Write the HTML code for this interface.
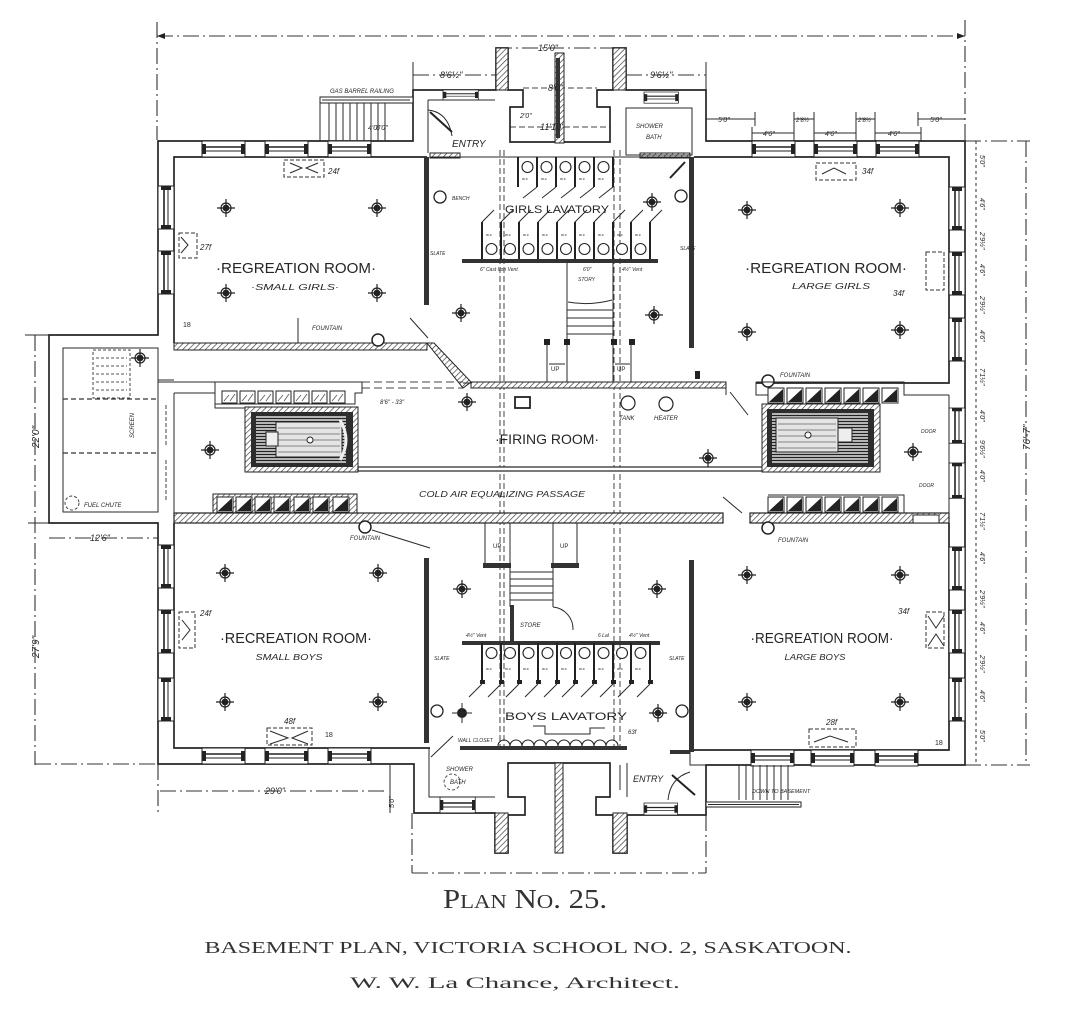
<!DOCTYPE html>
<html><head><meta charset="utf-8">
<style>
html,body{margin:0;padding:0;background:#fff;}
svg{display:block}
.w{fill:none;stroke:#252525;stroke-width:1.7}
.t{fill:none;stroke:#2a2a2a;stroke-width:1}
.d{fill:none;stroke:#333;stroke-width:1.1;stroke-dasharray:16 4 2 4}
.ds{fill:none;stroke:#444;stroke-width:1;stroke-dasharray:6 3}
text{font-family:"Liberation Sans",sans-serif;fill:#262626}
.hw{font-style:italic}
.sf{font-family:"Liberation Serif",serif;fill:#333}
</style></head><body>
<svg width="1069" height="1023" viewBox="0 0 1069 1023" xmlns="http://www.w3.org/2000/svg">
<defs>
<pattern id="h" width="4" height="4" patternUnits="userSpaceOnUse" patternTransform="rotate(45)"><rect width="4" height="4" fill="#fff"/><line x1="0" y1="0" x2="0" y2="4" stroke="#333" stroke-width="1.3"/></pattern>
<pattern id="st" width="6" height="3" patternUnits="userSpaceOnUse"><rect width="6" height="3" fill="#cfcfcf"/><line x1="0" y1="1.5" x2="6" y2="1.5" stroke="#222" stroke-width="1.3"/></pattern>
<g id="fx" stroke="#222" stroke-width="1.2"><circle r="5" fill="none"/><circle r="2.8" fill="#222"/><line x1="-9" y1="0" x2="9" y2="0"/><line x1="0" y1="-9" x2="0" y2="9"/></g>
<g id="wh"><rect x="0" y="0" width="43" height="16" fill="#fff" stroke="#222" stroke-width="1"/><line x1="3" y1="6" x2="40" y2="6" stroke="#222" stroke-width="1.6"/><line x1="3" y1="10" x2="40" y2="10" stroke="#222" stroke-width="1"/><rect x="0" y="3" width="4" height="10" fill="#222"/><rect x="39" y="3" width="4" height="10" fill="#222"/></g>
<g id="wv"><rect x="0" y="0" width="16" height="43" fill="#fff" stroke="#222" stroke-width="1"/><line x1="6" y1="3" x2="6" y2="40" stroke="#222" stroke-width="1.6"/><line x1="10" y1="3" x2="10" y2="40" stroke="#222" stroke-width="1"/><rect x="3" y="0" width="10" height="4" fill="#222"/><rect x="3" y="39" width="10" height="4" fill="#222"/></g>
<g id="bin"><rect x="0" y="0" width="16" height="15" fill="#fff" stroke="#222" stroke-width="1"/><path d="M1,14 L15,1 L15,14 Z" fill="#222"/></g>
<g id="binl"><rect x="0" y="0" width="15" height="12" fill="#fff" stroke="#222" stroke-width="1"/><path d="M2,10 L7,4 M8,10 L13,3" stroke="#555" stroke-width="0.8"/></g>
</defs>

<!-- ===== DIMENSION LINES ===== -->
<line class="d" x1="157" y1="36" x2="965" y2="36"/>
<line class="d" x1="157" y1="22" x2="157" y2="140"/>
<line class="d" x1="965" y1="20" x2="965" y2="140"/>
<path d="M157,36 l8,-3 v6 z M965,36 l-8,-3 v6 z" fill="#222"/>
<line class="d" x1="35" y1="335" x2="35" y2="765"/>
<line class="t" x1="25" y1="335" x2="49" y2="335"/>
<line class="t" x1="28" y1="523" x2="49" y2="523"/>
<line class="d" x1="35" y1="764" x2="158" y2="764"/>
<line class="d" x1="158" y1="764" x2="158" y2="815"/>
<line class="d" x1="160" y1="791" x2="388" y2="791"/>
<line class="d" x1="49" y1="538" x2="158" y2="538"/>
<line class="d" x1="1026" y1="141" x2="1026" y2="765"/>
<line class="d" x1="965" y1="141" x2="1030" y2="141"/>
<line class="d" x1="965" y1="765" x2="1030" y2="765"/>
<line class="t" x1="976" y1="141" x2="976" y2="765" stroke-dasharray="3 3"/>
<line class="d" x1="412" y1="813" x2="412" y2="873"/>
<line class="d" x1="412" y1="873" x2="706" y2="873"/>
<line class="d" x1="706" y1="815" x2="706" y2="873"/>
<line class="t" x1="390" y1="765" x2="390" y2="813"/>
<!-- center dashed lines -->
<line class="ds" x1="500" y1="150" x2="500" y2="752"/>
<line class="ds" x1="504" y1="150" x2="504" y2="752"/>
<line class="ds" x1="614" y1="150" x2="614" y2="752"/>
<line class="ds" x1="620" y1="150" x2="620" y2="752"/>
<!-- top dims -->
<line class="d" x1="413" y1="75" x2="496" y2="75"/>
<line class="d" x1="626" y1="75" x2="706" y2="75"/>
<line class="t" x1="413" y1="62" x2="413" y2="90"/>
<line class="t" x1="706" y1="62" x2="706" y2="90"/>
<line class="d" x1="496" y1="48" x2="626" y2="48"/>
<line class="ds" x1="523" y1="88" x2="597" y2="88"/>
<line class="ds" x1="510" y1="127" x2="610" y2="127"/>
<line class="t" x1="706" y1="119" x2="755" y2="119"/>
<line class="t" x1="918" y1="119" x2="965" y2="119"/>
<line class="t" x1="794" y1="119" x2="814" y2="119"/>
<line class="t" x1="856" y1="119" x2="875" y2="119"/>
<line class="t" x1="752" y1="133" x2="794" y2="133"/>
<line class="t" x1="814" y1="133" x2="856" y2="133"/>
<line class="t" x1="875" y1="133" x2="921" y2="133"/>
<g class="t"><line x1="752" y1="127" x2="752" y2="141"/><line x1="794" y1="112" x2="794" y2="141"/><line x1="814" y1="112" x2="814" y2="141"/><line x1="856" y1="112" x2="856" y2="141"/><line x1="875" y1="112" x2="875" y2="141"/><line x1="921" y1="127" x2="921" y2="141"/><line x1="755" y1="112" x2="755" y2="126"/><line x1="918" y1="112" x2="918" y2="126"/></g>

<!-- ===== BUILDING OUTLINE ===== -->
<path class="w" d="M158,141 H413 V90 H496 V48 H508 V90 H523 V107 H510 V142 H610 V107 H597 V90 H613 V48 H626 V90 H706 V141 H965 V765 H706 V815 H627 V853 H613 V815 H596 V797 H610 V763 H508 V797 H525 V815 H508 V853 H495 V813 H414 V764 H158 V523 H49 V335 H158 Z"/>
<!-- hatched piers -->
<rect x="496" y="48" width="12" height="42" fill="url(#h)" stroke="#222"/>
<rect x="613" y="48" width="13" height="42" fill="url(#h)" stroke="#222"/>
<rect x="555" y="53" width="9" height="90" fill="url(#h)" stroke="#222"/>
<rect x="556" y="58" width="4" height="80" fill="#333"/>
<rect x="495" y="813" width="13" height="40" fill="url(#h)" stroke="#222"/>
<rect x="613" y="813" width="14" height="40" fill="url(#h)" stroke="#222"/>
<rect x="555" y="763" width="8" height="90" fill="url(#h)" stroke="#222"/>

<!-- ===== TOP-LEFT : SMALL GIRLS ===== -->
<path class="w" d="M174,343 V157 H427"/>
<rect x="424" y="157" width="5" height="148" fill="#333"/>
<rect x="174" y="343" width="253" height="7" fill="url(#h)" stroke="#222" stroke-width="1"/>
<polygon points="427,343 434,343 471,382 463,388" fill="url(#h)" stroke="#222" stroke-width="1"/>
<line class="t" x1="410" y1="318" x2="428" y2="338"/>
<circle cx="378" cy="340" r="6" fill="#fff" stroke="#222" stroke-width="1.5"/>
<use href="#wh" x="202" y="141"/><use href="#wh" x="265" y="141"/><use href="#wh" x="328" y="141"/>
<use href="#wv" x="158" y="186"/><use href="#wv" x="158" y="251"/>
<use href="#fx" x="226" y="208"/><use href="#fx" x="377" y="208"/><use href="#fx" x="226" y="293"/><use href="#fx" x="377" y="293"/>
<rect x="284" y="160" width="40" height="17" fill="none" stroke="#333" stroke-dasharray="4 2"/>
<path class="t" d="M290,163 L302,168 L290,173 M318,163 L306,168 L318,173"/>
<text x="328" y="174" font-size="8" class="hw">24f</text>
<rect x="179" y="233" width="18" height="25" fill="none" stroke="#333" stroke-dasharray="4 2"/>
<path class="t" d="M181,237 L188,245 L181,253"/>
<text x="200" y="250" font-size="8" class="hw">27f</text>
<text x="296" y="273" font-size="15" text-anchor="middle" textLength="160" lengthAdjust="spacingAndGlyphs">·REGREATION ROOM·</text>
<text x="295" y="290" font-size="8" class="hw" text-anchor="middle" textLength="88" lengthAdjust="spacingAndGlyphs">·SMALL GIRLS·</text>
<text x="312" y="330" font-size="6" class="hw">FOUNTAIN</text>
<line class="t" x1="298" y1="318" x2="298" y2="343"/>
<text x="183" y="327" font-size="7">18</text>

<!-- gas barrel stair -->
<rect x="320" y="97" width="93" height="6" fill="#fff" stroke="#222" stroke-width="1"/>
<line class="t" x1="322" y1="100" x2="410" y2="100"/>
<path class="t" d="M329,103 V141 M336,103 V141 M343,103 V141 M350,103 V141 M357,103 V141 M364,103 V141 M371,103 V141 M378,103 V141 M385,103 V141"/>
<line class="t" x1="320" y1="103" x2="320" y2="141"/>
<text x="330" y="93" font-size="6" class="hw">GAS BARREL RAILING</text>
<text x="368" y="130" font-size="7" class="hw">4'0"</text>
<!-- entry top-left -->
<use href="#wh" x="0" y="0" transform="translate(443,90) scale(0.82,0.62)"/>
<path class="t" d="M428,100 H495 M428,100 V153"/>
<path class="t" d="M428,110 Q448,112 452,136"/>
<line x1="430" y1="112" x2="452" y2="132" stroke="#222" stroke-width="2"/>
<text x="452" y="147" font-size="10" class="hw">ENTRY</text>
<rect x="430" y="153" width="30" height="5" fill="url(#h)" stroke="#222" stroke-width="1"/>
<rect x="640" y="153" width="50" height="5" fill="url(#h)" stroke="#222" stroke-width="1"/>
<line class="t" x1="430" y1="157" x2="690" y2="157"/>
<circle cx="440" cy="197" r="6" fill="#fff" stroke="#222" stroke-width="1.3"/>
<text x="452" y="200" font-size="5" class="hw">BENCH</text>

<!-- ===== GIRLS LAVATORY ===== -->
<g stroke="#222" stroke-width="2">
<line x1="518" y1="157" x2="518" y2="187"/><line x1="537" y1="157" x2="537" y2="187"/><line x1="556" y1="157" x2="556" y2="187"/><line x1="575" y1="157" x2="575" y2="187"/><line x1="594" y1="157" x2="594" y2="187"/><line x1="613" y1="157" x2="613" y2="187"/>
</g>
<g fill="#fff" stroke="#222" stroke-width="1.1">
<circle cx="527.5" cy="167" r="5.5"/><circle cx="546.5" cy="167" r="5.5"/><circle cx="565.5" cy="167" r="5.5"/><circle cx="584.5" cy="167" r="5.5"/><circle cx="603.5" cy="167" r="5.5"/>
</g>
<g class="t"><path d="M537,187 L523,198 M556,187 L542,198 M575,187 L561,198 M594,187 L580,198 M613,187 L599,198"/></g>
<g font-size="4"><text x="522" y="180">w.c</text><text x="541" y="180">w.c</text><text x="560" y="180">w.c</text><text x="579" y="180">w.c</text><text x="598" y="180">w.c</text></g>
<text x="557" y="213" font-size="11" text-anchor="middle" textLength="104" lengthAdjust="spacingAndGlyphs">GIRLS LAVATORY</text>
<g stroke="#222" stroke-width="2">
<line x1="482" y1="222" x2="482" y2="260"/><line x1="501" y1="222" x2="501" y2="260"/><line x1="519" y1="222" x2="519" y2="260"/><line x1="538" y1="222" x2="538" y2="260"/><line x1="557" y1="222" x2="557" y2="260"/><line x1="575" y1="222" x2="575" y2="260"/><line x1="594" y1="222" x2="594" y2="260"/><line x1="613" y1="222" x2="613" y2="260"/><line x1="631" y1="222" x2="631" y2="260"/><line x1="650" y1="222" x2="650" y2="260"/>
</g>
<g class="t"><path d="M482,222 L494,210 M501,222 L513,210 M519,222 L531,210 M538,222 L550,210 M557,222 L569,210 M575,222 L587,210 M594,222 L606,210 M613,222 L625,210 M631,222 L643,210 M650,222 L662,210"/></g>
<g fill="#fff" stroke="#222" stroke-width="1.1">
<circle cx="491.5" cy="249" r="5.5"/><circle cx="510" cy="249" r="5.5"/><circle cx="528.5" cy="249" r="5.5"/><circle cx="547.5" cy="249" r="5.5"/><circle cx="566" cy="249" r="5.5"/><circle cx="584.5" cy="249" r="5.5"/><circle cx="603.5" cy="249" r="5.5"/><circle cx="622" cy="249" r="5.5"/><circle cx="640.5" cy="249" r="5.5"/>
</g>
<g font-size="4"><text x="486" y="236">w.c</text><text x="505" y="236">w.c</text><text x="523" y="236">w.c</text><text x="542" y="236">w.c</text><text x="561" y="236">w.c</text><text x="579" y="236">w.c</text><text x="598" y="236">w.c</text><text x="617" y="236">w.c</text><text x="635" y="236">w.c</text></g>
<rect x="462" y="259" width="196" height="4" fill="#333"/>
<text x="480" y="271" font-size="5" class="hw">6" Cast Iron Vent</text>
<text x="622" y="271" font-size="5" class="hw">4½" Vent</text>
<text x="583" y="271" font-size="5" class="hw">6'0"</text>
<text x="578" y="281" font-size="5" class="hw">STORY</text>
<!-- girls stair -->
<path class="t" d="M567,263 V342 M613,263 V342 M567,310 H613 M567,318 H613 M567,326 H613 M567,334 H613"/>
<path class="t" d="M568,302 Q590,306 612,300"/>
<path class="t" d="M547,342 V382 M567,342 V382 M613,342 V382 M631,342 V382"/>
<rect x="544" y="339" width="6" height="6" fill="#222"/><rect x="564" y="339" width="6" height="6" fill="#222"/><rect x="611" y="339" width="6" height="6" fill="#222"/><rect x="629" y="339" width="6" height="6" fill="#222"/>
<text x="551" y="371" font-size="6">UP</text><text x="617" y="371" font-size="6">UP</text>
<line class="t" x1="549" y1="364" x2="565" y2="364"/><line class="t" x1="615" y1="364" x2="630" y2="364"/>

<!-- top-right shower room -->
<rect class="t" x="626" y="108" width="66" height="47"/>
<use href="#wh" x="0" y="0" transform="translate(644,92) scale(0.8,0.7)"/>
<text x="636" y="128" font-size="6" class="hw">SHOWER</text>
<text x="646" y="139" font-size="6" class="hw">BATH</text>
<line x1="670" y1="178" x2="685" y2="162" stroke="#222" stroke-width="2"/>
<circle cx="681" cy="196" r="6" fill="#fff" stroke="#222" stroke-width="1.3"/>

<!-- ===== TOP-RIGHT : LARGE GIRLS ===== -->
<rect x="689" y="157" width="5" height="191" fill="#333"/>
<path class="w" d="M694,157 H949 V383 H756"/>
<path class="t" d="M463,383 H726 M726,383 V395"/>
<rect x="471" y="382" width="255" height="6" fill="url(#h)" stroke="#222" stroke-width="1"/>
<line class="t" x1="730" y1="392" x2="748" y2="415"/>
<circle cx="768" cy="381" r="6" fill="#fff" stroke="#222" stroke-width="1.5"/>
<rect x="695" y="371" width="5" height="8" fill="#222"/>
<use href="#wh" x="752" y="141"/><use href="#wh" x="814" y="141"/><use href="#wh" x="876" y="141"/>
<use href="#wv" x="949" y="187"/><use href="#wv" x="949" y="252"/><use href="#wv" x="949" y="318"/>
<use href="#fx" x="747" y="210"/><use href="#fx" x="900" y="208"/><use href="#fx" x="747" y="332"/><use href="#fx" x="900" y="330"/>
<use href="#fx" x="652" y="202"/><use href="#fx" x="654" y="315"/><use href="#fx" x="461" y="313"/>
<rect x="816" y="163" width="40" height="17" fill="none" stroke="#333" stroke-dasharray="4 2"/>
<path class="t" d="M822,174 L834,168 L846,174"/>
<text x="862" y="174" font-size="8" class="hw">34f</text>
<rect x="926" y="252" width="18" height="38" fill="none" stroke="#333" stroke-dasharray="4 2"/>
<text x="893" y="296" font-size="8" class="hw">34f</text>
<text x="826" y="273" font-size="15" text-anchor="middle" textLength="162" lengthAdjust="spacingAndGlyphs">·REGREATION ROOM·</text>
<text x="831" y="289" font-size="8" class="hw" text-anchor="middle" textLength="78" lengthAdjust="spacingAndGlyphs">LARGE GIRLS</text>
<text x="780" y="377" font-size="6" class="hw">FOUNTAIN</text>
<text x="680" y="250" font-size="5" class="hw">SLATE</text>
<text x="430" y="255" font-size="5" class="hw">SLATE</text>

<!-- ===== LEFT ANNEX ===== -->
<rect class="t" x="63" y="348" width="95" height="164"/>
<line x1="63" y1="399" x2="158" y2="399" stroke="#333" stroke-dasharray="5 3" stroke-width="1.2"/>
<line x1="63" y1="453" x2="158" y2="453" stroke="#333" stroke-dasharray="5 3" stroke-width="1.2"/>
<rect x="93" y="350" width="37" height="48" fill="none" stroke="#444" stroke-dasharray="3 2"/>
<path d="M96,358 H127 M96,366 H127 M96,374 H127 M96,382 H127 M96,390 H127" stroke="#555" stroke-dasharray="3 2" fill="none"/>
<use href="#fx" x="140" y="358"/>
<text x="0" y="0" font-size="6" class="hw" transform="translate(134,438) rotate(-90)">SCREEN</text>
<circle cx="72" cy="503" r="7" fill="none" stroke="#444" stroke-dasharray="3 2"/>
<text x="84" y="507" font-size="6" class="hw">FUEL CHUTE</text>
<path class="t" d="M158,380 V512 M174,393 V513 M158,380 H174"/>
<line x1="166" y1="405" x2="166" y2="445" stroke="#444" stroke-dasharray="4 2"/>
<line x1="166" y1="460" x2="166" y2="500" stroke="#444" stroke-dasharray="4 2"/>
<line class="t" x1="158" y1="382" x2="362" y2="382"/>
<line x1="362" y1="382" x2="463" y2="382" stroke="#444" stroke-dasharray="8 4"/>
<line x1="362" y1="388" x2="463" y2="388" stroke="#444" stroke-dasharray="8 4"/>

<!-- ===== FIRING ROOM ===== -->
<path class="t" d="M174,393 H215 V408 H245"/>
<path class="t" d="M215,382 V393 M215,404 H355 V393 H362 V382"/>
<g><use href="#binl" x="222" y="391"/><use href="#binl" x="240" y="391"/><use href="#binl" x="258" y="391"/><use href="#binl" x="276" y="391"/><use href="#binl" x="294" y="391"/><use href="#binl" x="312" y="391"/><use href="#binl" x="330" y="391"/></g>
<rect x="245" y="407" width="113" height="65" fill="url(#h)" stroke="#222"/>
<rect x="251" y="412" width="102" height="55" fill="#2d2d2d"/>
<rect x="256" y="416" width="90" height="47" fill="url(#st)"/>
<rect x="276" y="422" width="66" height="35" fill="#e4e4e4" stroke="#222"/>
<path d="M278,428 H340 M278,434 H340 M278,440 H340 M278,446 H340 M278,452 H340" stroke="#666" stroke-width="0.8"/>
<rect x="266" y="432" width="12" height="14" fill="#eee" stroke="#222"/>
<path d="M340,420 Q352,440 340,460" fill="none" stroke="#eee" stroke-width="3"/>
<circle cx="310" cy="440" r="3" fill="#fff" stroke="#222"/>
<use href="#fx" x="210" y="450"/>
<use href="#fx" x="467" y="402"/>
<use href="#fx" x="708" y="458"/>
<rect x="515" y="397" width="15" height="11" fill="#fff" stroke="#222" stroke-width="1.8"/>
<circle cx="628" cy="403" r="7" fill="#fff" stroke="#222" stroke-width="1.2"/>
<circle cx="666" cy="404" r="7" fill="#fff" stroke="#222" stroke-width="1.2"/>
<text x="619" y="420" font-size="6" class="hw">TANK</text>
<text x="654" y="420" font-size="6" class="hw">HEATER</text>
<text x="380" y="404" font-size="6" class="hw">8'6" - 33"</text>
<text x="547" y="444" font-size="14" text-anchor="middle" textLength="104" lengthAdjust="spacingAndGlyphs">·FIRING ROOM·</text>
<rect x="358" y="467" width="410" height="4" fill="#fff" stroke="#222" stroke-width="1.2"/>
<!-- bottom bins left -->
<rect x="213" y="494" width="144" height="20" fill="url(#h)" stroke="#222" stroke-width="1"/>
<g><use href="#bin" x="217" y="497"/><use href="#bin" x="236" y="497"/><use href="#bin" x="255" y="497"/><use href="#bin" x="274" y="497"/><use href="#bin" x="294" y="497"/><use href="#bin" x="313" y="497"/><use href="#bin" x="333" y="497"/></g>
<rect x="183" y="514" width="27" height="9" fill="#fff" stroke="#222"/>
<line class="t" x1="186" y1="518" x2="207" y2="518"/>
<text x="502" y="497" font-size="8" class="hw" text-anchor="middle" textLength="166" lengthAdjust="spacingAndGlyphs">COLD AIR EQUALIZING PASSAGE</text>
<rect x="174" y="513" width="549" height="10" fill="url(#h)" stroke="#222" stroke-width="1.2"/>
<rect x="750" y="513" width="199" height="10" fill="url(#h)" stroke="#222" stroke-width="1.2"/>
<line class="t" x1="723" y1="497" x2="742" y2="513"/>
<!-- right firing area -->
<path class="t" d="M756,382 V395 H768 M756,382 H904 V395 H949"/>
<g><use href="#bin" x="768" y="388"/><use href="#bin" x="787" y="388"/><use href="#bin" x="806" y="388"/><use href="#bin" x="825" y="388"/><use href="#bin" x="844" y="388"/><use href="#bin" x="863" y="388"/><use href="#bin" x="882" y="388"/></g>
<rect x="762" y="404" width="118" height="68" fill="url(#h)" stroke="#222"/>
<rect x="767" y="409" width="107" height="58" fill="#2d2d2d"/>
<rect x="772" y="413" width="96" height="50" fill="url(#st)"/>
<rect x="776" y="418" width="62" height="34" fill="#e4e4e4" stroke="#222"/>
<path d="M778,424 H836 M778,430 H836 M778,436 H836 M778,442 H836 M778,448 H836" stroke="#666" stroke-width="0.8"/>
<rect x="838" y="428" width="14" height="14" fill="#eee" stroke="#222"/>
<circle cx="808" cy="435" r="3" fill="#fff" stroke="#222"/>
<path class="t" d="M768,495 H904 V513 M904,495 V513"/>
<g><use href="#bin" x="768" y="497"/><use href="#bin" x="787" y="497"/><use href="#bin" x="806" y="497"/><use href="#bin" x="825" y="497"/><use href="#bin" x="844" y="497"/><use href="#bin" x="863" y="497"/><use href="#bin" x="882" y="497"/></g>
<line class="t" x1="949" y1="395" x2="949" y2="513"/>
<use href="#wv" x="0" y="0" transform="translate(949,408) scale(1,0.82)"/>
<use href="#wv" x="0" y="0" transform="translate(949,463) scale(1,0.82)"/>
<text x="921" y="433" font-size="5" class="hw">DOOR</text>
<text x="919" y="487" font-size="5" class="hw">DOOR</text>
<use href="#fx" x="913" y="452"/>
<rect x="913" y="515" width="26" height="8" fill="#fff" stroke="#222"/>
<circle cx="768" cy="528" r="6" fill="#fff" stroke="#222" stroke-width="1.5"/>
<circle cx="365" cy="527" r="6" fill="#fff" stroke="#222" stroke-width="1.5"/>
<text x="350" y="540" font-size="6" class="hw">FOUNTAIN</text>
<text x="778" y="542" font-size="6" class="hw">FOUNTAIN</text>
<line class="t" x1="372" y1="530" x2="430" y2="548"/>

<!-- ===== BOTTOM-LEFT : SMALL BOYS ===== -->
<path class="w" d="M174,523 V748 H430"/>
<rect x="424" y="558" width="5" height="185" fill="#333"/>
<use href="#wh" x="202" y="748"/><use href="#wh" x="265" y="748"/><use href="#wh" x="328" y="748"/>
<use href="#wv" x="158" y="545"/><use href="#wv" x="158" y="610"/><use href="#wv" x="158" y="678"/>
<use href="#fx" x="225" y="573"/><use href="#fx" x="378" y="573"/><use href="#fx" x="225" y="702"/><use href="#fx" x="378" y="702"/>
<rect x="179" y="612" width="16" height="36" fill="none" stroke="#333" stroke-dasharray="4 2"/>
<path class="t" d="M182,620 L190,630 L182,640"/>
<text x="200" y="616" font-size="8" class="hw">24f</text>
<rect x="267" y="728" width="45" height="17" fill="none" stroke="#333" stroke-dasharray="4 2"/>
<path class="t" d="M270,731 L288,738 L270,744 M308,731 L292,738 L308,744"/>
<text x="284" y="724" font-size="8" class="hw">48f</text>
<text x="296" y="643" font-size="15" text-anchor="middle" textLength="152" lengthAdjust="spacingAndGlyphs">·RECREATION ROOM·</text>
<text x="289" y="660" font-size="8" class="hw" text-anchor="middle" textLength="67" lengthAdjust="spacingAndGlyphs">SMALL BOYS</text>
<text x="325" y="737" font-size="7">18</text>
<text x="434" y="660" font-size="5" class="hw">SLATE</text>
<circle cx="437" cy="711" r="6" fill="#fff" stroke="#222" stroke-width="1.3"/>
<!-- shower / bath bottom left -->
<path class="t" d="M429,748 V797 H495"/>
<use href="#wh" x="0" y="0" transform="translate(440,797) scale(0.82,1)"/>
<text x="446" y="771" font-size="6" class="hw">SHOWER</text>
<text x="450" y="784" font-size="6" class="hw">BATH</text>
<path d="M452,774 a8,8 0 1,0 0.1,0" fill="none" stroke="#555" stroke-dasharray="3 2"/>
<line class="t" x1="431" y1="757" x2="453" y2="736"/>
<text x="458" y="742" font-size="5" class="hw">WALL CLOSET</text>

<!-- ===== BOYS LAVATORY ===== -->
<!-- boys stair -->
<path class="t" d="M485,523 V565 M510,523 V565 M553,523 V565 M577,523 V565"/>
<rect x="483" y="563" width="28" height="5" fill="#333"/><rect x="551" y="563" width="28" height="5" fill="#333"/>
<path class="t" d="M510,565 V607 M553,565 V607 M510,572 H553 M510,579 H553 M510,586 H553 M510,593 H553 M510,600 H553"/>
<rect x="510" y="605" width="4" height="38" fill="#333"/>
<path class="t" d="M553,607 A22,22 0 0,1 573,630"/>
<text x="493" y="548" font-size="6">UP</text><text x="560" y="548" font-size="6">UP</text>
<text x="520" y="627" font-size="6" class="hw">STORE</text>
<rect x="462" y="641" width="198" height="4" fill="#333"/>
<g stroke="#222" stroke-width="2">
<line x1="482" y1="643" x2="482" y2="682"/><line x1="501" y1="643" x2="501" y2="682"/><line x1="519" y1="643" x2="519" y2="682"/><line x1="538" y1="643" x2="538" y2="682"/><line x1="557" y1="643" x2="557" y2="682"/><line x1="575" y1="643" x2="575" y2="682"/><line x1="594" y1="643" x2="594" y2="682"/><line x1="613" y1="643" x2="613" y2="682"/><line x1="631" y1="643" x2="631" y2="682"/><line x1="650" y1="643" x2="650" y2="682"/>
</g>
<g fill="#222"><rect x="480" y="680" width="5" height="4"/><rect x="499" y="680" width="5" height="4"/><rect x="517" y="680" width="5" height="4"/><rect x="536" y="680" width="5" height="4"/><rect x="555" y="680" width="5" height="4"/><rect x="573" y="680" width="5" height="4"/><rect x="592" y="680" width="5" height="4"/><rect x="611" y="680" width="5" height="4"/><rect x="629" y="680" width="5" height="4"/><rect x="648" y="680" width="5" height="4"/></g>
<g fill="#fff" stroke="#222" stroke-width="1.1">
<circle cx="491.5" cy="653" r="5.5"/><circle cx="510" cy="653" r="5.5"/><circle cx="528.5" cy="653" r="5.5"/><circle cx="547.5" cy="653" r="5.5"/><circle cx="566" cy="653" r="5.5"/><circle cx="584.5" cy="653" r="5.5"/><circle cx="603.5" cy="653" r="5.5"/><circle cx="622" cy="653" r="5.5"/><circle cx="640.5" cy="653" r="5.5"/>
</g>
<g font-size="4"><text x="486" y="670">w.c</text><text x="505" y="670">w.c</text><text x="523" y="670">w.c</text><text x="542" y="670">w.c</text><text x="561" y="670">w.c</text><text x="579" y="670">w.c</text><text x="598" y="670">w.c</text><text x="617" y="670">w.c</text><text x="635" y="670">w.c</text></g>
<g class="t"><path d="M482,684 L469,697 M501,684 L488,697 M519,684 L506,697 M538,684 L525,697 M557,684 L544,697 M575,684 L562,697 M594,684 L581,697 M613,684 L600,697 M631,684 L618,697 M650,684 L637,697"/></g>
<text x="466" y="637" font-size="5" class="hw">4½" Vent</text>
<text x="598" y="637" font-size="5" class="hw">6 Lal</text>
<text x="629" y="637" font-size="5" class="hw">4½" Vent</text>
<text x="566" y="720" font-size="11" text-anchor="middle" textLength="122" lengthAdjust="spacingAndGlyphs">BOYS LAVATORY</text>
<path class="t" d="M533,726 H545 V734 H590 V728 H605"/>
<g fill="none" stroke="#222" stroke-width="1.1"><path d="M498,746 a6,6 0 0,1 12,0 a6,6 0 0,1 12,0 a6,6 0 0,1 12,0 a6,6 0 0,1 12,0 a6,6 0 0,1 12,0 a6,6 0 0,1 12,0 a6,6 0 0,1 12,0 a6,6 0 0,1 12,0 a6,6 0 0,1 12,0 a6,6 0 0,1 12,0"/></g>
<rect x="460" y="746" width="167" height="4" fill="#333"/>
<text x="628" y="734" font-size="6" class="hw">63f</text>
<line class="t" x1="620" y1="765" x2="620" y2="790"/>

<!-- ===== BOTTOM-RIGHT : LARGE BOYS ===== -->
<rect x="689" y="560" width="5" height="192" fill="#333"/>
<path class="w" d="M694,750 H949 V523"/>
<use href="#wh" x="751" y="750"/><use href="#wh" x="811" y="750"/><use href="#wh" x="875" y="750"/>
<use href="#wv" x="949" y="547"/><use href="#wv" x="949" y="610"/><use href="#wv" x="949" y="678"/>
<use href="#fx" x="747" y="575"/><use href="#fx" x="900" y="575"/><use href="#fx" x="747" y="702"/><use href="#fx" x="900" y="702"/>
<use href="#fx" x="462" y="589"/><use href="#fx" x="657" y="589"/><use href="#fx" x="658" y="713"/>
<circle cx="462" cy="713" r="5" fill="#222"/><line class="t" x1="452" y1="713" x2="472" y2="713"/><line class="t" x1="462" y1="703" x2="462" y2="723"/>
<rect x="926" y="612" width="18" height="36" fill="none" stroke="#333" stroke-dasharray="4 2"/>
<path class="t" d="M928,616 L936,628 L944,616 M928,646 L936,634 L944,646"/>
<text x="898" y="614" font-size="8" class="hw">34f</text>
<rect x="809" y="729" width="47" height="18" fill="none" stroke="#333" stroke-dasharray="4 2"/>
<path class="t" d="M814,742 L830,736 L848,742"/>
<text x="826" y="725" font-size="8" class="hw">28f</text>
<text x="822" y="643" font-size="15" text-anchor="middle" textLength="143" lengthAdjust="spacingAndGlyphs">·REGREATION ROOM·</text>
<text x="815" y="660" font-size="8" class="hw" text-anchor="middle" textLength="61" lengthAdjust="spacingAndGlyphs">LARGE BOYS</text>
<circle cx="682" cy="711" r="6" fill="#fff" stroke="#222" stroke-width="1.3"/>
<text x="669" y="660" font-size="5" class="hw">SLATE</text>
<text x="935" y="745" font-size="7">18</text>
<!-- entry bottom right -->
<path class="t" d="M627,763 V797 M690,752 V765 H706"/>
<rect x="670" y="750" width="20" height="4" fill="#333"/>
<path class="t" d="M690,772 Q670,778 668,800"/>
<line x1="672" y1="775" x2="695" y2="795" stroke="#222" stroke-width="2"/>
<text x="633" y="782" font-size="9" class="hw">ENTRY</text>
<use href="#wh" x="0" y="0" transform="translate(644,803) scale(0.78,0.75)"/>
<path class="t" d="M739,765 V800 M746,765 V800 M753,765 V800 M760,765 V800 M767,765 V800 M774,765 V800 M781,765 V800 M788,765 V800"/>
<rect x="706" y="802" width="95" height="5" fill="#fff" stroke="#222"/>
<line class="t" x1="708" y1="804.5" x2="799" y2="804.5"/>
<text x="752" y="793" font-size="5.5" class="hw">DOWN TO BASEMENT</text>

<!-- ===== DIMENSION TEXT ===== -->
<g font-size="9" class="hw" fill="#333">
<text x="538" y="51">15'0"</text>
<text x="440" y="78">8'6½"</text>
<text x="650" y="78">9'6½"</text>
<text x="548" y="91">8'0"</text>
<text x="540" y="130">11'10"</text>
<text x="520" y="118" font-size="7">2'0"</text>
<text x="718" y="122" font-size="7">5'0"</text>
<text x="930" y="122" font-size="7">5'0"</text>
<text x="796" y="122" font-size="6">2'8½</text>
<text x="858" y="122" font-size="6">2'8½</text>
<text x="763" y="136" font-size="7">4'6"</text>
<text x="825" y="136" font-size="7">4'6"</text>
<text x="888" y="136" font-size="7">4'6"</text>
<text x="376" y="130" font-size="7">6'0"</text>
<text x="265" y="794">29'0"</text>
<text x="90" y="541">12'6"</text>
</g>
<text x="0" y="0" font-size="10" class="hw" transform="translate(39,448) rotate(-90)">22'0"</text>
<text x="0" y="0" font-size="10" class="hw" transform="translate(39,658) rotate(-90)">27'9"</text>
<text x="0" y="0" font-size="10" class="hw" transform="translate(1030,450) rotate(-90)">76'-7"</text>
<text x="0" y="0" font-size="7" class="hw" transform="translate(394,808) rotate(-90)">5'0"</text>
<g font-size="7" class="hw">
<text transform="translate(980,155) rotate(90)">5'0"</text>
<text transform="translate(980,198) rotate(90)">4'6"</text>
<text transform="translate(980,232) rotate(90)">2'9½"</text>
<text transform="translate(980,264) rotate(90)">4'6"</text>
<text transform="translate(980,296) rotate(90)">2'9½"</text>
<text transform="translate(980,330) rotate(90)">4'6"</text>
<text transform="translate(980,368) rotate(90)">7'1½"</text>
<text transform="translate(980,410) rotate(90)">4'0"</text>
<text transform="translate(980,440) rotate(90)">9'6½"</text>
<text transform="translate(980,470) rotate(90)">4'0"</text>
<text transform="translate(980,512) rotate(90)">7'1½"</text>
<text transform="translate(980,552) rotate(90)">4'6"</text>
<text transform="translate(980,590) rotate(90)">2'9½"</text>
<text transform="translate(980,622) rotate(90)">4'6"</text>
<text transform="translate(980,655) rotate(90)">2'9½"</text>
<text transform="translate(980,690) rotate(90)">4'6"</text>
<text transform="translate(980,730) rotate(90)">5'0"</text>
</g>

<!-- ===== TITLES ===== -->
<text x="525" y="908" class="sf" font-size="27" text-anchor="middle" textLength="164" lengthAdjust="spacingAndGlyphs">P<tspan font-size="20">LAN</tspan> N<tspan font-size="20">O</tspan>. 25.</text>
<text x="528" y="953" class="sf" font-size="17" text-anchor="middle" textLength="647" lengthAdjust="spacingAndGlyphs">BASEMENT PLAN, VICTORIA SCHOOL NO. 2, SASKATOON.</text>
<text x="515" y="988" class="sf" font-size="15.5" text-anchor="middle" textLength="330" lengthAdjust="spacingAndGlyphs">W. W. La Chance, Architect.</text>
</svg>
</body></html>
